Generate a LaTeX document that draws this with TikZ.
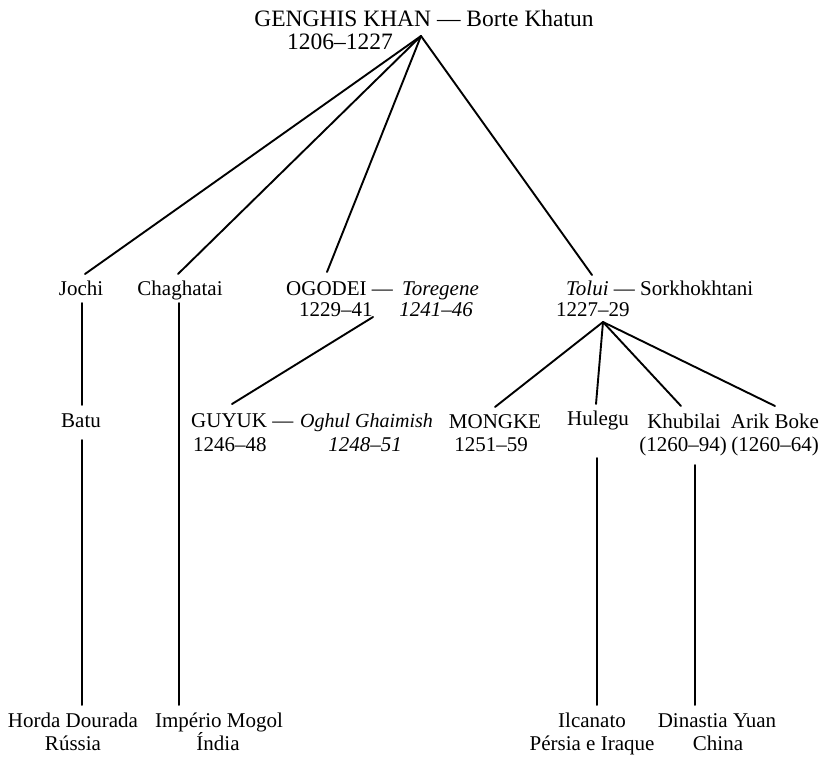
\documentclass[tikz,border=0pt]{standalone}
\usepackage{fontspec}
\setmainfont{Liberation Serif}
\usetikzlibrary{calc}
\begin{document}
\begin{tikzpicture}[x=1pt,y=-1pt,
  lbl/.style={inner sep=0pt, font=\fontsize{21}{24}\selectfont},
  ttl/.style={inner sep=0pt, font=\fontsize{23.5}{26}\selectfont},
  link/.style={line width=1.9pt, line cap=round}]
\useasboundingbox (0,0) rectangle (826,758);
% title
\node[ttl, anchor=base] (genghis) at (424,26) {GENGHIS KHAN — Borte Khatun};
\node[ttl, anchor=base] (gyears) at (340,49) {1206–1227};
\coordinate (apex) at (421,36);
% row 1
\node[lbl, anchor=base] (jochi) at (81,295) {Jochi};
\node[lbl, anchor=base] (chaghatai) at (180,295) {Chaghatai};
\node[lbl, anchor=base west] (ogodei) at (286,295) {OGODEI —};
\node[lbl, anchor=base west] (toregene) at (402,295) {\textit{Toregene}};
\node[lbl, anchor=base west] (ogodeiyears) at (299,316) {1229–41};
\node[lbl, anchor=base east] (toregeneyears) at (473,316) {\textit{1241–46}};
\node[lbl, anchor=base west] (tolui) at (566,295) {\textit{Tolui} — Sorkhokhtani};
\node[lbl, anchor=base west] (toluiyears) at (556,316) {1227–29};
% row 2
\node[lbl, anchor=base] (batu) at (81,427) {Batu};
\node[lbl, anchor=base west] (guyuk) at (191,427) {GUYUK —};
\node[lbl, anchor=base west, font=\fontsize{20}{24}\selectfont] (oghul) at (300,427) {\textit{Oghul Ghaimish}};
\node[lbl, anchor=base west] (guyukyears) at (193,451) {1246–48};
\node[lbl, anchor=base] (oghulyears) at (365,451) {\textit{1248–51}};
\node[lbl, anchor=base] (mongke) at (495,428) {MONGKE};
\node[lbl, anchor=base] (mongkeyears) at (491,451) {1251–59};
\node[lbl, anchor=base] (hulegu) at (598,425) {Hulegu};
\node[lbl, anchor=base] (khubilai) at (684,428) {Khubilai};
\node[lbl, anchor=base] (khubilaiyears) at (683,451) {(1260–94)};
\node[lbl, anchor=base] (arik) at (775,428) {Arik Boke};
\node[lbl, anchor=base] (arikyears) at (775,451) {(1260–64)};
% bottom
\node[lbl, anchor=base] (horda) at (73,727) {Horda Dourada};
\node[lbl, anchor=base] (russia) at (73,750) {Rússia};
\node[lbl, anchor=base] (imperio) at (219,727) {Império Mogol};
\node[lbl, anchor=base] (india) at (218,750) {Índia};
\node[lbl, anchor=base] (ilcanato) at (592,727) {Ilcanato};
\node[lbl, anchor=base] (persia) at (592,750) {Pérsia e Iraque};
\node[lbl, anchor=base] (yuan) at (717,727) {Dinastia Yuan};
\node[lbl, anchor=base] (china) at (718,750) {China};
% connectors from Genghis Khan
\draw[link] (apex) -- ($(jochi.base)+(4,-21)$);
\draw[link] (apex) -- ($(chaghatai.base)+(-2,-21)$);
\draw[link] (apex) -- ($(ogodei.base west)+(41,-23)$);
\draw[link] (apex) -- ($(tolui.base west)+(26,-20)$);
% Jochi line
\draw[link] ($(jochi.base)+(1,8)$) -- ($(batu.base)+(1,-22)$);
\draw[link] ($(batu.base)+(1,13)$) -- ($(batu.base |- horda.base)+(1,-22)$);
% Chaghatai line
\draw[link] ($(chaghatai.base)+(-1,8)$) -- ($(chaghatai.base |- imperio.base)+(-1,-22)$);
% Ogodei line
\draw[link] ($(ogodeiyears.base west)+(74,1)$) -- ($(guyuk.base west)+(41,-23)$);
% Tolui fan
\coordinate (tfan) at ($(toluiyears.base west)+(47,6)$);
\draw[link] (tfan) -- ($(mongke.base)+(0,-21)$);
\draw[link] (tfan) -- ($(hulegu.base)+(-2,-21)$);
\draw[link] (tfan) -- ($(khubilai.base)+(-3,-22)$);
\draw[link] (tfan) -- ($(arik.base)+(0,-22)$);
% Hulegu and Khubilai lines
\draw[link] ($(hulegu.base)+(-1,33)$) -- ($(hulegu.base |- ilcanato.base)+(-1,-22)$);
\draw[link] ($(khubilaiyears.base)+(12,14)$) -- ($(khubilaiyears.base |- yuan.base)+(12,-22)$);
\end{tikzpicture}
\end{document}
